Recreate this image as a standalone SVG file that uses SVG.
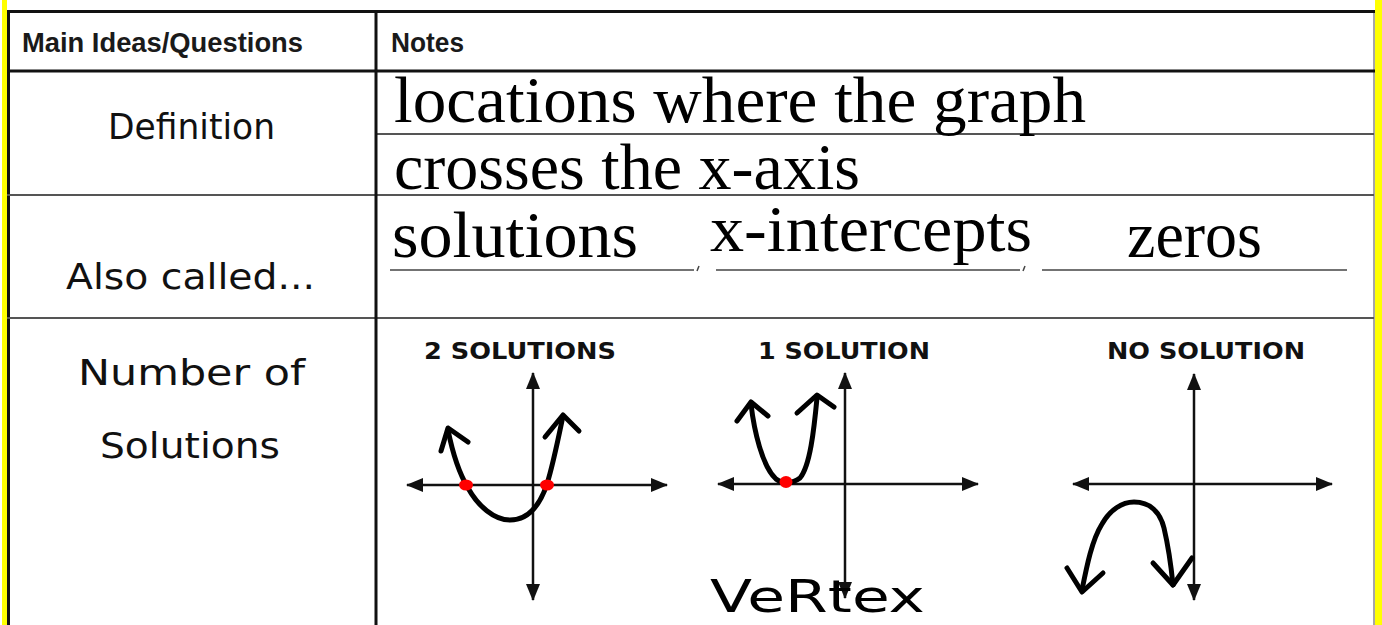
<svg xmlns="http://www.w3.org/2000/svg" width="1382" height="625" viewBox="0 0 1382 625">
<style>
.hdr{font-family:"Liberation Sans",Arial,sans-serif;font-weight:bold;font-size:27px;fill:#1a1a1a}
.hand{font-family:"DejaVu Sans","Liberation Sans",sans-serif;font-size:36px;fill:#111}
.note{font-family:"Liberation Serif","Times New Roman",serif;font-size:66px;fill:#000}
.gt{font-family:"DejaVu Sans",Verdana,sans-serif;font-weight:bold;font-size:23px;fill:#111}
.axis{stroke:#111;stroke-width:2.5;fill:none;marker-start:url(#ah);marker-end:url(#ah)}
.curve{stroke:#000;stroke-width:5;fill:none;stroke-linecap:round;stroke-linejoin:round}
.dot{fill:#f00}
.rule{stroke:#555;stroke-width:2}
.thick{stroke:#111;stroke-width:3}
.ul{stroke:#444;stroke-width:1.5}
</style>
<defs>
<marker id="ah" markerUnits="userSpaceOnUse" markerWidth="17" markerHeight="14" refX="16" refY="7" orient="auto-start-reverse">
<path d="M0,0 L17,7 L0,14 z" fill="#111"/>
</marker>
</defs>
<rect x="0" y="0" width="1382" height="625" fill="#fff"/>
<g id="frame">
<rect x="2" y="0" width="5" height="625" fill="#ffff00"/>
<rect x="1375" y="0" width="7" height="625" fill="#ffff00"/>
<line x1="8.5" y1="11" x2="8.5" y2="625" class="thick"/>
<line x1="1374" y1="11" x2="1374" y2="625" stroke="#888" stroke-width="1.5"/>
<line x1="7" y1="11.5" x2="1375" y2="11.5" class="thick"/>
<line x1="7" y1="71" x2="1375" y2="71" class="thick"/>
<line x1="376" y1="134" x2="1374" y2="134" class="rule"/>
<line x1="7" y1="195" x2="1374" y2="195" class="rule"/>
<line x1="7" y1="318" x2="1374" y2="318" class="rule"/>
<line x1="376" y1="11" x2="376" y2="625" class="thick"/>
</g>
<g id="header">
<text x="22" y="52" class="hdr" textLength="281" lengthAdjust="spacingAndGlyphs">Main Ideas/Questions</text>
<text x="391" y="52" class="hdr" textLength="73" lengthAdjust="spacingAndGlyphs">Notes</text>
</g>
<g id="definition">
<text x="108" y="139" class="hand" textLength="167" lengthAdjust="spacingAndGlyphs">Definition</text>
<text x="394" y="122" class="note" textLength="692" lengthAdjust="spacingAndGlyphs">locations where the graph</text>
<text x="394" y="189" class="note" textLength="466" lengthAdjust="spacingAndGlyphs">crosses the x-axis</text>
</g>
<g id="also-called">
<text x="66" y="289" class="hand" textLength="249" lengthAdjust="spacingAndGlyphs">Also called...</text>
<text x="392" y="257" class="note" textLength="246" lengthAdjust="spacingAndGlyphs">solutions</text>
<text x="710" y="251" class="note" textLength="322" lengthAdjust="spacingAndGlyphs">x-intercepts</text>
<text x="1127" y="257" class="note" textLength="135" lengthAdjust="spacingAndGlyphs">zeros</text>
<line x1="390" y1="270" x2="694" y2="270" class="ul"/>
<line x1="697" y1="271" x2="699" y2="266" class="ul"/>
<line x1="716" y1="270" x2="1020" y2="270" class="ul"/>
<line x1="1023" y1="271" x2="1025" y2="266" class="ul"/>
<line x1="1042" y1="270" x2="1347" y2="270" class="ul"/>
</g>
<g id="number-of-solutions">
<text x="78" y="385" class="hand" textLength="227" lengthAdjust="spacingAndGlyphs">Number of</text>
<text x="100" y="458" class="hand" textLength="180" lengthAdjust="spacingAndGlyphs">Solutions</text>
</g>
<g id="graph-two">
<text x="424" y="359" class="gt" textLength="192" lengthAdjust="spacingAndGlyphs">2 SOLUTIONS</text>
<line x1="407" y1="485" x2="667" y2="485" class="axis"/>
<line x1="533" y1="373" x2="533" y2="600" class="axis"/>
<path d="M448,430 C454,460 462,478 468,488 C478,506 494,520 510,520 C528,520 540,505 547,484 C553,465 558,440 563,416" class="curve"/>
<path d="M441,451 L448,428 L468,442" class="curve"/>
<path d="M545,437 L563,415 L579,431" class="curve"/>
<ellipse cx="466" cy="485" rx="7" ry="5.5" class="dot"/>
<ellipse cx="547" cy="485" rx="7" ry="5.5" class="dot"/>
</g>
<g id="graph-one">
<text x="758" y="359" class="gt" textLength="172" lengthAdjust="spacingAndGlyphs">1 SOLUTION</text>
<line x1="718" y1="484" x2="978" y2="484" class="axis"/>
<line x1="845" y1="373" x2="845" y2="598" class="axis"/>
<path d="M751,404 C754,430 762,466 776,479 C782,484 792,484 800,478 C810,466 814,430 817,398" class="curve"/>
<path d="M737,421 L751,402 L768,416" class="curve"/>
<path d="M797,413 L817,395 L834,407" class="curve"/>
<ellipse cx="786" cy="482" rx="6.5" ry="6" class="dot"/>
<text x="710" y="612" font-family="DejaVu Sans,sans-serif" font-size="44" fill="#000" textLength="215" lengthAdjust="spacingAndGlyphs">VeRtex</text>
</g>
<g id="graph-none">
<text x="1107" y="359" class="gt" textLength="198" lengthAdjust="spacingAndGlyphs">NO SOLUTION</text>
<line x1="1073" y1="484" x2="1332" y2="484" class="axis"/>
<line x1="1194" y1="374" x2="1194" y2="600" class="axis"/>
<path d="M1082,590 C1087,565 1092,540 1102,524 C1110,510 1122,502 1134,502 C1150,502 1160,512 1164,528 C1168,545 1171,565 1173,585" class="curve"/>
<path d="M1067,568 L1082,592 L1103,573" class="curve"/>
<path d="M1153,563 L1173,585 L1192,558" class="curve"/>
</g>
</svg>
